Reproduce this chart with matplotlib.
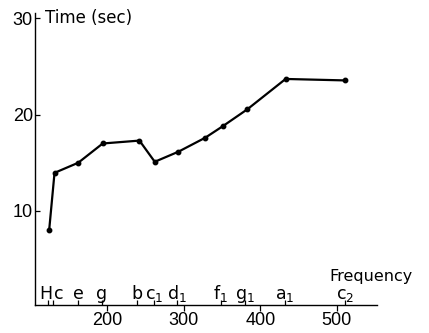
import matplotlib
matplotlib.use("Agg")
import matplotlib.pyplot as plt
import matplotlib.transforms as mtransforms
import numpy as np

plt.rcParams["font.family"] = ["DejaVu Sans"]
plt.rcParams["mathtext.fontset"] = "dejavusans"

# measured points (frequency in Hz, time in sec)
freq = [124, 131, 162, 194, 242, 262, 293, 328, 351, 383, 433, 510]
time_sec = [8.0, 13.95, 15.0, 17.0, 17.3, 15.1, 16.15, 17.6, 18.8, 20.55, 23.7, 23.55]

# note names marked along the frequency axis
note_freq = [123, 129, 162, 193, 239, 261, 291, 348, 380, 432, 511]
note_labels = ["H", "c", "e", "g", "b", "c$_1$", "d$_1$", "f$_1$",
               "g$_1$", "a$_1$", "c$_2$"]

x_ticks = [200, 300, 400, 500]
y_ticks = [10, 20, 30]

fig = plt.figure(figsize=(4.29, 3.33), dpi=100)
ax = fig.add_axes([0.0816, 0.0841, 0.7964, 0.8769])

ax.plot(freq, time_sec, color="black", linewidth=1.6, marker="o",
        markersize=3.2, clip_on=False, zorder=3)

ax.set_xlim(105.5, 552)
ax.set_ylim(0.23, 30.55)

for side in ["top", "right"]:
    ax.spines[side].set_visible(False)
ax.spines["left"].set_linewidth(1.0)
ax.spines["bottom"].set_linewidth(1.0)

ax.set_xticks(x_ticks)
ax.set_yticks(y_ticks)
ax.tick_params(axis="x", direction="out", length=4.5, width=0.9,
               labelsize=13, pad=0.8)
ax.tick_params(axis="y", direction="in", length=3.8, width=0.9,
               labelsize=13, pad=1.5)
for lab in ax.get_xticklabels() + ax.get_yticklabels():
    lab.set_fontfamily("Liberation Sans")

# small upward ticks for the notes
ybase = ax.get_ylim()[0]
ax.plot(note_freq, np.full(len(note_freq), ybase), linestyle="none",
        marker=2, markersize=3.5, markeredgewidth=0.9, color="black",
        clip_on=False)

nudge = {"H": -2.0, "c": 4.5}
for f, lab in zip(note_freq, note_labels):
    ax.annotate(lab, (f, ybase), xytext=(nudge.get(lab, 0), 4.2),
                textcoords="offset points", ha="center", va="baseline",
                fontsize=12.5, annotation_clip=False)

ax.text(0.862, 0.082, "Frequency", transform=ax.transAxes, ha="left",
        va="baseline", fontsize=11.5)

trans = mtransforms.blended_transform_factory(ax.transAxes, ax.transData)
ax.text(0.028, 30, "Time (sec)", transform=trans, ha="left", va="center",
        fontsize=12)

fig.savefig("out.png", dpi=100)
